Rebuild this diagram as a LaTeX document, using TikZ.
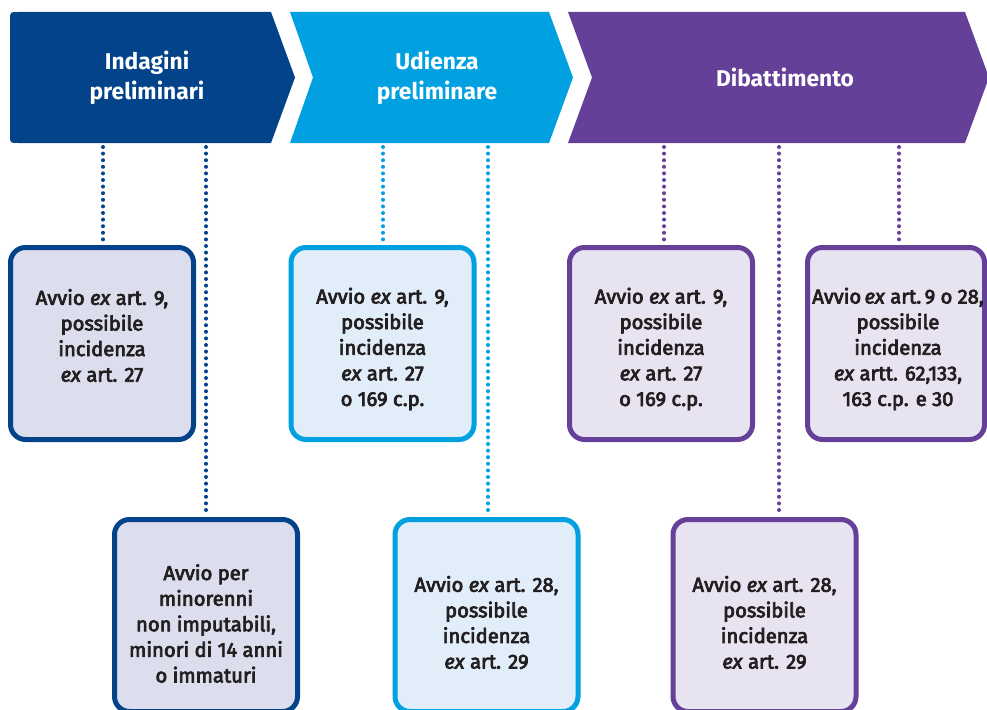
\documentclass[tikz,border=0pt]{standalone}
\usepackage{fontspec}
\setmainfont{Fira Sans}
\newfontfamily\boxfont{Fira Sans}[FakeBold=3.5]
\definecolor{cdark}{RGB}{3,67,138}
\definecolor{clight}{RGB}{0,160,225}
\definecolor{cpurple}{RGB}{101,64,152}
\definecolor{fdark}{RGB}{220,222,237}
\definecolor{flight}{RGB}{225,238,250}
\definecolor{fpurple}{RGB}{232,227,241}
\definecolor{ctext}{RGB}{35,31,32}
\tikzset{
  box/.style={draw, line width=5pt, rounded corners=15pt, minimum width=183pt, minimum height=192pt, inner sep=0pt},
  txt/.style={align=center, text=ctext, font=\boxfont\fontsize{20.2}{25.6}\selectfont, inner sep=0pt},
  dotline/.style={line width=4pt, line cap=round, dash pattern=on 0pt off 6.6pt},
  head/.style={text=white, font=\bfseries\fontsize{22.8}{30.5}\selectfont, align=center}
}
\begin{document}
\begin{tikzpicture}[x=1pt,y=-1pt]
\useasboundingbox (0,0) rectangle (987,709);
\clip (0,0) rectangle (987,709);
% headers
\fill[cdark] (271,12) -- (295,77.5) -- (271,143) -- (18,143) .. controls (10,143) .. (10,135) -- (10,20) .. controls (10,12) .. (18,12) -- cycle;
\fill[clight] (290,12) -- (549,12) -- (573,77.5) -- (549,143) -- (290,143) -- (313,77.5) -- cycle;
\fill[cpurple] (568,12) -- (965,12) -- (989,77.5) -- (965,143) -- (568,143) -- (592,77.5) -- cycle;
\node[head] (h1) at (147,78) {Indagini\\preliminari};
\node[head] (h2) at (437,78) {Udienza\\preliminare};
\node[head] (h3) at (785,77) {Dibattimento};
% boxes
\node[box, draw=cdark, fill=fdark,
  label={[txt, yshift=8pt]center:{Avvio \textit{ex} art. 9,\\possibile\\incidenza\\\textit{ex} art. 27}}] (b1) at (102,343.5) {};
\node[box, draw=clight, fill=flight,
  label={[txt, yshift=-5.5pt]center:{Avvio \textit{ex} art. 9,\\possibile\\incidenza\\\textit{ex} art. 27\\o 169 c.p.}}] (b2) at (382.5,343.5) {};
\node[box, draw=cpurple, fill=fpurple,
  label={[txt, yshift=-5.5pt]center:{Avvio \textit{ex} art. 9,\\possibile\\incidenza\\\textit{ex} art. 27\\o 169 c.p.}}] (b3) at (661,343.5) {};
\node[box, draw=cpurple, fill=fpurple, minimum width=177pt,
  label={[txt, yshift=-5.5pt, xshift=2pt]center:{Avvio\,\textit{ex} art.\,9 o 28,\\possibile\\incidenza\\\textit{ex} artt. 62,133,\\163 c.p. e 30}}] (b4) at (896,343.5) {};
\node[box, draw=cdark, fill=fdark,
  label={[txt, yshift=-8pt]center:{Avvio per\\minorenni\\non imputabili,\\minori di 14 anni\\o immaturi}}] (b5) at (206,615.5) {};
\node[box, draw=clight, fill=flight,
  label={[txt, yshift=-7pt]center:{Avvio \textit{ex} art. 28,\\possibile\\incidenza\\\textit{ex} art. 29}}] (b6) at (486.5,615.5) {};
\node[box, draw=cpurple, fill=fpurple,
  label={[txt, yshift=-7pt]center:{Avvio \textit{ex} art. 28,\\possibile\\incidenza\\\textit{ex} art. 29}}] (b7) at (764.5,615.5) {};
% dotted connectors
\coordinate (t1) at (103,147);
\coordinate (t2) at (206,147);
\coordinate (t3) at (383,147);
\coordinate (t4) at (488,147);
\coordinate (t5) at (664,147);
\coordinate (t6) at (779,147);
\coordinate (t7) at (899,147);
\draw[dotline, cdark] (t1) -- ([yshift=4pt]b1.north -| t1);
\draw[dotline, cdark] (t2) -- ([yshift=4pt]b5.north -| t2);
\draw[dotline, clight] (t3) -- ([yshift=4pt]b2.north -| t3);
\draw[dotline, clight] (t4) -- ([yshift=4pt]b6.north -| t4);
\draw[dotline, cpurple] (t5) -- ([yshift=4pt]b3.north -| t5);
\draw[dotline, cpurple] (t6) -- ([yshift=4pt]b7.north -| t6);
\draw[dotline, cpurple] (t7) -- ([yshift=4pt]b4.north -| t7);
\end{tikzpicture}
\end{document}
